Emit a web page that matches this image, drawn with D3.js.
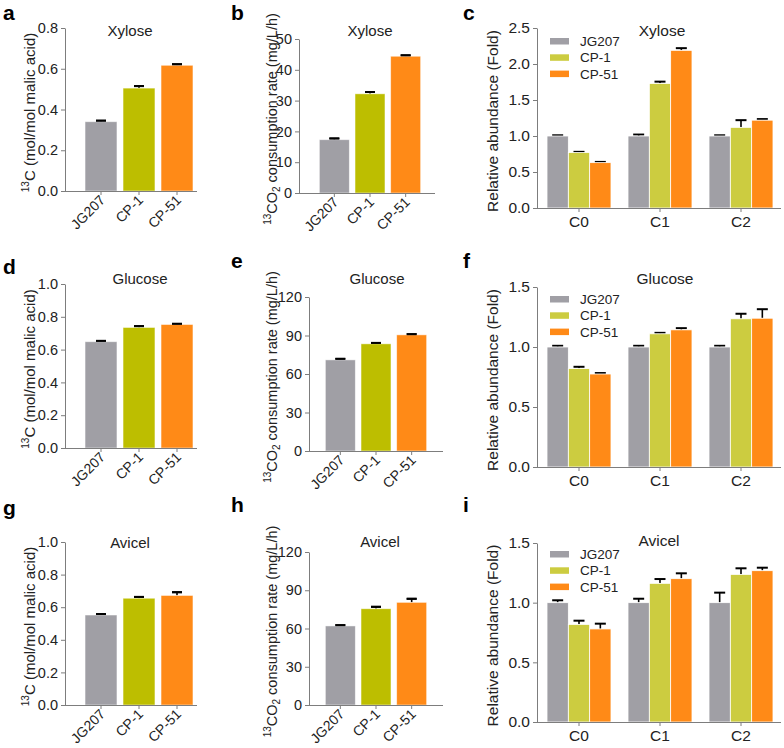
<!DOCTYPE html>
<html>
<head>
<meta charset="utf-8">
<script src="https://cdn.jsdelivr.net/npm/d3@7"></script>
<style>
  body { margin: 0; background: #fff; }
  text { font-family: "Liberation Sans", Arial, sans-serif; fill: #222; }
</style>
</head>
<body>
<script>
'use strict';

const W = 784;
const H = 748;

const strains = ['JG207', 'CP-1', 'CP-51'];
const carbons = ['C0', 'C1', 'C2'];

// 13C ratio (mol/mol malic acid)
const xyloseRatio = [0.340, 0.505, 0.617];
const xyloseRatioErr = [0.005, 0.010, 0.005];
const glucoseRatio = [0.648, 0.735, 0.753];
const glucoseRatioErr = [0.005, 0.008, 0.004];
const avicelRatio = [0.552, 0.655, 0.672];
const avicelRatioErr = [0.006, 0.008, 0.020];

// 13CO2 consumption rate (mg/L/h)
const xyloseRate = [17.3, 32.2, 44.4];
const xyloseRateErr = [0.4, 0.6, 0.3];
const glucoseRate = [71.0, 83.5, 90.5];
const glucoseRateErr = [0.8, 0.7, 0.5];
const avicelRate = [62.0, 75.5, 80.5];
const avicelRateErr = [0.6, 1.5, 2.8];

// relative abundance, one row per carbon group (JG207, CP-1, CP-51)
const xyloseFold = [[1.00, 0.77, 0.63], [1.00, 1.73, 2.19], [1.00, 1.12, 1.22]];
const xyloseFoldErr = [[0.01, 0.01, 0.01], [0.02, 0.025, 0.03], [0.01, 0.10, 0.015]];
const glucoseFold = [[1.00, 0.82, 0.775], [1.00, 1.11, 1.143], [1.00, 1.235, 1.24]];
const glucoseFoldErr = [[0.01, 0.015, 0.008], [0.01, 0.008, 0.014], [0.01, 0.042, 0.075]];
const avicelFold = [[1.00, 0.818, 0.78], [1.00, 1.162, 1.201], [1.00, 1.237, 1.268]];
const avicelFoldErr = [[0.02, 0.031, 0.044], [0.033, 0.036, 0.045], [0.084, 0.051, 0.025]];

const ratioTicks = [0, 0.2, 0.4, 0.6, 0.8, 1.0];
const rateTicksXylose = [0, 10, 20, 30, 40, 50];
const rateTicks = [0, 30, 60, 90, 120];
const foldTicksXylose = [0, 0.5, 1.0, 1.5, 2.0, 2.5];
const foldTicks = [0, 0.5, 1.0, 1.5];

const simpleColors = ['#a09fa5', '#bdbe00', '#ff8a17'];
const groupColors = ['#a09fa5', '#cccc40', '#ff8a17'];
const axisColor = '#7d7d7d';

const svg = d3.select('body').append('svg')
    .attr('width', W)
    .attr('height', H);

function panelLetter(x, y, s) {
  svg.append('text')
      .attr('x', x).attr('y', y)
      .attr('font-size', 21)
      .attr('font-weight', 'bold')
      .style('fill', '#000')
      .text(s);
}

function ratioLabel(g, x, y) {
  const t = g.append('text')
      .attr('transform', `translate(${x},${y}) rotate(-90)`)
      .attr('text-anchor', 'middle')
      .attr('font-size', 15);
  t.append('tspan').attr('font-size', 10).attr('dy', -6).text('13');
  t.append('tspan').attr('dy', 6).text('C (mol/mol malic acid)');
}

function rateLabel(g, x, y) {
  const t = g.append('text')
      .attr('transform', `translate(${x},${y}) rotate(-90)`)
      .attr('text-anchor', 'middle')
      .attr('font-size', 14.5);
  t.append('tspan').attr('font-size', 10).attr('dy', -6).text('13');
  t.append('tspan').attr('dy', 6).text('CO');
  t.append('tspan').attr('font-size', 10).attr('dy', 3).text('2');
  t.append('tspan').attr('dy', -3).text(' consumption rate (mg/L/h)');
}

function styleAxis(ax, size) {
  ax.selectAll('path, line').attr('stroke', axisColor);
  ax.selectAll('text')
      .attr('font-size', size)
      .style('font-family', '"Liberation Sans", Arial, sans-serif')
      .style('fill', '#222');
}

function errorBar(g, cx, yTop, yBase, capW) {
  g.append('line')
      .attr('x1', cx).attr('x2', cx)
      .attr('y1', yBase).attr('y2', yTop)
      .attr('stroke', '#000').attr('stroke-width', 1.6);
  g.append('line')
      .attr('x1', cx - capW / 2).attr('x2', cx + capW / 2)
      .attr('y1', yTop).attr('y2', yTop)
      .attr('stroke', '#000').attr('stroke-width', 2);
}

function simplePanel(cfg) {
  const g = svg.append('g');
  const x = d3.scaleBand()
      .domain(strains)
      .range([cfg.bx0, cfg.bx1])
      .paddingInner(0.16)
      .paddingOuter(0.08);
  const y = d3.scaleLinear()
      .domain([0, d3.max(cfg.ticks)])
      .range([cfg.yBot, cfg.yTop]);

  strains.forEach((s, i) => {
    errorBar(g, x(s) + x.bandwidth() / 2, y(cfg.values[i] + cfg.errors[i]), y(cfg.values[i]), 10);
  });

  g.selectAll('rect.bar')
    .data(cfg.values)
    .join('rect')
      .attr('class', 'bar')
      .attr('x', (d, i) => x(strains[i]))
      .attr('y', d => y(d))
      .attr('width', x.bandwidth())
      .attr('height', d => y(0) - y(d))
      .attr('fill', (d, i) => simpleColors[i])
      .attr('stroke', '#fff')
      .attr('stroke-opacity', 0.6)
      .attr('stroke-width', 0.8);

  // error caps above bars
  strains.forEach((s, i) => {
    const cx = x(s) + x.bandwidth() / 2;
    g.append('line')
        .attr('x1', cx - 5).attr('x2', cx + 5)
        .attr('y1', y(cfg.values[i] + cfg.errors[i])).attr('y2', y(cfg.values[i] + cfg.errors[i]))
        .attr('stroke', '#000').attr('stroke-width', 2);
  });

  const yAx = g.append('g')
      .attr('transform', `translate(${cfg.x0},0)`)
      .call(d3.axisLeft(y).tickValues(cfg.ticks).tickFormat(cfg.fmt).tickSize(4).tickSizeOuter(0));
  styleAxis(yAx, 14.5);

  const xAx = g.append('g')
      .attr('transform', `translate(0,${cfg.yBot})`)
      .call(d3.axisBottom(x).tickSize(4).tickSizeOuter(0));
  xAx.select('.domain').remove();
  xAx.append('line')
      .attr('x1', cfg.x0).attr('x2', cfg.x1)
      .attr('y1', 0.5).attr('y2', 0.5);
  styleAxis(xAx, 14);
  xAx.selectAll('text')
      .attr('text-anchor', 'end')
      .attr('dy', null)
      .attr('y', 0)
      .attr('transform', 'translate(5,10) rotate(-45)');

  g.append('text')
      .attr('x', cfg.titleX).attr('y', cfg.titleY)
      .attr('text-anchor', 'middle')
      .attr('font-size', 15)
      .text(cfg.title);

  cfg.label(g, cfg.labelX, (cfg.yTop + cfg.yBot) / 2 + 3);
}

function groupPanel(cfg) {
  const g = svg.append('g');
  const x0 = d3.scaleBand()
      .domain(carbons)
      .range([538.5, 781.5])
      .paddingInner(0.21)
      .paddingOuter(0.105);
  const x1 = d3.scaleBand()
      .domain(strains)
      .range([0, x0.bandwidth()]);
  const y = d3.scaleLinear()
      .domain([0, d3.max(cfg.ticks)])
      .range([cfg.yBot, cfg.yTop]);

  carbons.forEach((c, gi) => {
    strains.forEach((s, i) => {
      const cx = x0(c) + x1(s) + x1.bandwidth() / 2;
      errorBar(g, cx, y(cfg.values[gi][i] + cfg.errors[gi][i]), y(cfg.values[gi][i]), 11);
    });
  });

  const grp = g.selectAll('g.grp')
    .data(cfg.values)
    .join('g')
      .attr('class', 'grp')
      .attr('transform', (d, gi) => `translate(${x0(carbons[gi])},0)`);

  grp.selectAll('rect')
    .data(d => d)
    .join('rect')
      .attr('x', (d, i) => x1(strains[i]))
      .attr('y', d => y(d))
      .attr('width', x1.bandwidth())
      .attr('height', d => y(0) - y(d))
      .attr('fill', (d, i) => groupColors[i])
      .attr('stroke', '#fff')
      .attr('stroke-width', 0.8);

  const yAx = g.append('g')
      .attr('transform', 'translate(537,0)')
      .call(d3.axisLeft(y).tickValues(cfg.ticks).tickFormat(d3.format('.1f')).tickSize(4).tickSizeOuter(0));
  styleAxis(yAx, 15.5);

  const xAx = g.append('g')
      .attr('transform', `translate(0,${cfg.yBot})`)
      .call(d3.axisBottom(x0).tickSize(4).tickSizeOuter(0));
  xAx.select('.domain').remove();
  xAx.append('line')
      .attr('x1', 537).attr('x2', 781)
      .attr('y1', 0.5).attr('y2', 0.5);
  styleAxis(xAx, 15.5);
  xAx.selectAll('text').attr('y', 8);

  // legend
  const lg = g.append('g')
      .attr('transform', `translate(550,${cfg.legendY})`);
  strains.forEach((s, i) => {
    lg.append('rect')
        .attr('x', 0).attr('y', i * 16.3 - 3)
        .attr('width', 19).attr('height', 6.5)
        .attr('fill', groupColors[i]);
    lg.append('text')
        .attr('x', 30).attr('y', i * 16.3 + 5)
        .attr('font-size', 13.5)
        .text(s);
  });

  g.append('text')
      .attr('x', cfg.titleX).attr('y', cfg.titleY)
      .attr('text-anchor', 'middle')
      .attr('font-size', 15.5)
      .text(cfg.title);

  g.append('text')
      .attr('transform', `translate(498,${(cfg.yTop + cfg.yBot) / 2 + 3}) rotate(-90)`)
      .attr('text-anchor', 'middle')
      .attr('font-size', 15.5)
      .text('Relative abundance (Fold)');
}

// row 1 - Xylose
panelLetter(3, 20, 'a');
simplePanel({x0: 65, x1: 197, bx0: 82, bx1: 196, yTop: 28, yBot: 191,
  ticks: ratioTicks.slice(0, 5), fmt: d3.format('.1f'),
  values: xyloseRatio, errors: xyloseRatioErr,
  title: 'Xylose', titleX: 130, titleY: 36, label: ratioLabel, labelX: 35});

panelLetter(231, 20, 'b');
simplePanel({x0: 299, x1: 435, bx0: 316.5, bx1: 423.5, yTop: 39, yBot: 193,
  ticks: rateTicksXylose, fmt: d3.format('d'),
  values: xyloseRate, errors: xyloseRateErr,
  title: 'Xylose', titleX: 370, titleY: 36, label: rateLabel, labelX: 277});

panelLetter(463, 20, 'c');
groupPanel({yTop: 28, yBot: 208, ticks: foldTicksXylose,
  values: xyloseFold, errors: xyloseFoldErr,
  title: 'Xylose', titleX: 662, titleY: 36, legendY: 41});

// row 2 - Glucose
panelLetter(3, 274, 'd');
simplePanel({x0: 65, x1: 197, bx0: 82, bx1: 196, yTop: 284, yBot: 448,
  ticks: ratioTicks, fmt: d3.format('.1f'),
  values: glucoseRatio, errors: glucoseRatioErr,
  title: 'Glucose', titleX: 140, titleY: 284, label: ratioLabel, labelX: 35});

panelLetter(231, 268, 'e');
simplePanel({x0: 309, x1: 443, bx0: 322.5, bx1: 429.5, yTop: 297, yBot: 451,
  ticks: rateTicks, fmt: d3.format('d'),
  values: glucoseRate, errors: glucoseRateErr,
  title: 'Glucose', titleX: 377, titleY: 284, label: rateLabel, labelX: 277});

panelLetter(463, 268, 'f');
groupPanel({yTop: 287, yBot: 467, ticks: foldTicks,
  values: glucoseFold, errors: glucoseFoldErr,
  title: 'Glucose', titleX: 665, titleY: 284, legendY: 299});

// row 3 - Avicel
panelLetter(3, 515, 'g');
simplePanel({x0: 65, x1: 197, bx0: 82, bx1: 196, yTop: 542, yBot: 705,
  ticks: ratioTicks, fmt: d3.format('.1f'),
  values: avicelRatio, errors: avicelRatioErr,
  title: 'Avicel', titleX: 130, titleY: 548, label: ratioLabel, labelX: 35});

panelLetter(231, 512, 'h');
simplePanel({x0: 309, x1: 443, bx0: 322.5, bx1: 429.5, yTop: 552, yBot: 705,
  ticks: rateTicks, fmt: d3.format('d'),
  values: avicelRate, errors: avicelRateErr,
  title: 'Avicel', titleX: 380, titleY: 547, label: rateLabel, labelX: 277});

panelLetter(463, 512, 'i');
groupPanel({yTop: 543, yBot: 722, ticks: foldTicks,
  values: avicelFold, errors: avicelFoldErr,
  title: 'Avicel', titleX: 659, titleY: 546, legendY: 554});
</script>
</body>
</html>
